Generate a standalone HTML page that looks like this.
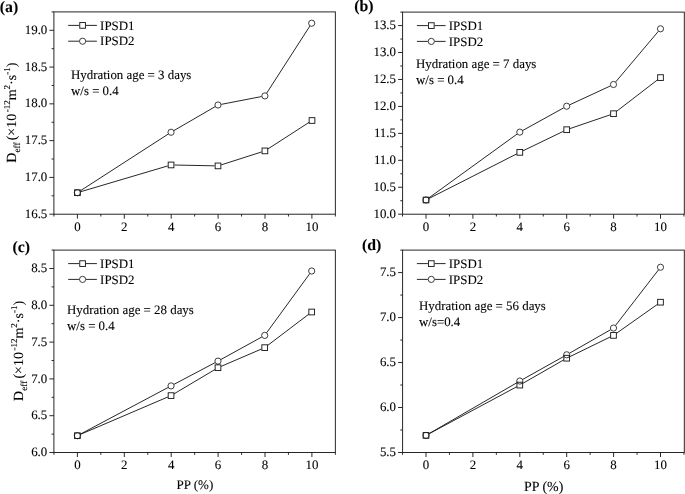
<!DOCTYPE html>
<html lang="en"><head><meta charset="utf-8"><title>Deff vs PP</title>
<style>
html,body{margin:0;padding:0;background:#fff;}
body{width:685px;height:494px;overflow:hidden;}
svg{display:block;will-change:transform;}
svg text{font-family:"Liberation Serif", "DejaVu Serif", serif;fill:#000;stroke:#000;stroke-width:0.1px;text-rendering:geometricPrecision;}
</style></head><body>
<svg width="685" height="494" viewBox="0 0 685 494">

<g fill="none" stroke="#1c1c1c" stroke-width="0.95">
<rect x="53.9" y="11.9" width="281.45" height="202.3"/>
<line x1="53.95" y1="214.2" x2="53.95" y2="216.5"/>
<line x1="77.4" y1="214.2" x2="77.4" y2="218.7"/>
<line x1="100.85" y1="214.2" x2="100.85" y2="216.5"/>
<line x1="124.3" y1="214.2" x2="124.3" y2="218.7"/>
<line x1="147.75" y1="214.2" x2="147.75" y2="216.5"/>
<line x1="171.2" y1="214.2" x2="171.2" y2="218.7"/>
<line x1="194.65" y1="214.2" x2="194.65" y2="216.5"/>
<line x1="218.1" y1="214.2" x2="218.1" y2="218.7"/>
<line x1="241.55" y1="214.2" x2="241.55" y2="216.5"/>
<line x1="265" y1="214.2" x2="265" y2="218.7"/>
<line x1="288.45" y1="214.2" x2="288.45" y2="216.5"/>
<line x1="311.9" y1="214.2" x2="311.9" y2="218.7"/>
<line x1="335.35" y1="214.2" x2="335.35" y2="216.5"/>
<line x1="53.9" y1="214.2" x2="49.4" y2="214.2"/>
<line x1="53.9" y1="195.81" x2="51.6" y2="195.81"/>
<line x1="53.9" y1="177.42" x2="49.4" y2="177.42"/>
<line x1="53.9" y1="159.03" x2="51.6" y2="159.03"/>
<line x1="53.9" y1="140.64" x2="49.4" y2="140.64"/>
<line x1="53.9" y1="122.25" x2="51.6" y2="122.25"/>
<line x1="53.9" y1="103.85" x2="49.4" y2="103.85"/>
<line x1="53.9" y1="85.46" x2="51.6" y2="85.46"/>
<line x1="53.9" y1="67.07" x2="49.4" y2="67.07"/>
<line x1="53.9" y1="48.68" x2="51.6" y2="48.68"/>
<line x1="53.9" y1="30.29" x2="49.4" y2="30.29"/>
<line x1="53.9" y1="11.9" x2="51.6" y2="11.9"/>
<line x1="80.66" y1="191.73" x2="167.79" y2="165.92"/>
<line x1="174.45" y1="165.02" x2="214.6" y2="165.83"/>
<line x1="221.24" y1="164.86" x2="261.66" y2="151.94"/>
<line x1="267.76" y1="149.06" x2="309.14" y2="122.34"/>
<rect x="74.55" y="189.85" width="5.7" height="5.7"/>
<rect x="168.2" y="162.1" width="5.7" height="5.7"/>
<rect x="215.15" y="163.05" width="5.7" height="5.7"/>
<rect x="262.05" y="148.05" width="5.7" height="5.7"/>
<rect x="309.15" y="117.65" width="5.7" height="5.7"/>
<line x1="80.26" y1="190.86" x2="168.19" y2="134.09"/>
<line x1="173.99" y1="130.54" x2="215.06" y2="106.71"/>
<line x1="221.34" y1="104.35" x2="261.56" y2="96.55"/>
<line x1="266.74" y1="93.04" x2="309.86" y2="26.06"/>
<circle cx="77.4" cy="192.7" r="3.1" stroke-width="0.85"/>
<circle cx="171.05" cy="132.25" r="3.1" stroke-width="0.85"/>
<circle cx="218" cy="105" r="3.1" stroke-width="0.85"/>
<circle cx="264.9" cy="95.9" r="3.1" stroke-width="0.85"/>
<circle cx="311.7" cy="23.2" r="3.1" stroke-width="0.85"/>
<line x1="68.2" y1="25.4" x2="79.2" y2="25.4"/>
<line x1="86" y1="25.4" x2="96.9" y2="25.4"/>
<line x1="68.2" y1="41.2" x2="79.2" y2="41.2"/>
<line x1="86" y1="41.2" x2="96.9" y2="41.2"/>
<rect x="79.75" y="22.55" width="5.7" height="5.7"/>
<circle cx="82.6" cy="41.2" r="3.1" stroke-width="0.85"/>
</g>
<g font-size="12.9">
<text x="100.1" y="29.6">IPSD1</text>
<text x="100.1" y="45.4">IPSD2</text>
<text x="71" y="79.4">Hydration age = 3 days</text>
<text x="71" y="95.4">w/s = 0.4</text>
<text x="77.4" y="230.6" text-anchor="middle">0</text>
<text x="124.3" y="230.6" text-anchor="middle">2</text>
<text x="171.2" y="230.6" text-anchor="middle">4</text>
<text x="218.1" y="230.6" text-anchor="middle">6</text>
<text x="265" y="230.6" text-anchor="middle">8</text>
<text x="311.9" y="230.6" text-anchor="middle">10</text>
<text x="47.3" y="217.8" text-anchor="end">16.5</text>
<text x="47.3" y="181.02" text-anchor="end">17.0</text>
<text x="47.3" y="144.24" text-anchor="end">17.5</text>
<text x="47.3" y="107.45" text-anchor="end">18.0</text>
<text x="47.3" y="70.67" text-anchor="end">18.5</text>
<text x="47.3" y="33.89" text-anchor="end">19.0</text>
</g>
<text transform="translate(16.3,112.65) rotate(-90)" text-anchor="middle" font-size="14.0">D<tspan font-size="9.3" dy="3.6">eff</tspan><tspan dy="-3.6" dx="2.1">(×10</tspan><tspan font-size="9" dy="-6.2" dx="1.5">-12</tspan><tspan dy="6.2">m</tspan><tspan font-size="9" dy="-6.2">2</tspan><tspan dy="6.2">·s</tspan><tspan font-size="9" dy="-6.2">-1</tspan><tspan dy="6.2">)</tspan></text>
<text x="-0.2" y="12.2" font-size="15.8" font-weight="bold">(a)</text>
<g fill="none" stroke="#1c1c1c" stroke-width="0.95">
<rect x="402.6" y="12.1" width="281.7" height="202.1"/>
<line x1="402.55" y1="214.2" x2="402.55" y2="216.5"/>
<line x1="426" y1="214.2" x2="426" y2="218.7"/>
<line x1="449.45" y1="214.2" x2="449.45" y2="216.5"/>
<line x1="472.9" y1="214.2" x2="472.9" y2="218.7"/>
<line x1="496.35" y1="214.2" x2="496.35" y2="216.5"/>
<line x1="519.8" y1="214.2" x2="519.8" y2="218.7"/>
<line x1="543.25" y1="214.2" x2="543.25" y2="216.5"/>
<line x1="566.7" y1="214.2" x2="566.7" y2="218.7"/>
<line x1="590.15" y1="214.2" x2="590.15" y2="216.5"/>
<line x1="613.6" y1="214.2" x2="613.6" y2="218.7"/>
<line x1="637.05" y1="214.2" x2="637.05" y2="216.5"/>
<line x1="660.5" y1="214.2" x2="660.5" y2="218.7"/>
<line x1="683.95" y1="214.2" x2="683.95" y2="216.5"/>
<line x1="402.6" y1="214.2" x2="398.1" y2="214.2"/>
<line x1="402.6" y1="200.73" x2="400.3" y2="200.73"/>
<line x1="402.6" y1="187.25" x2="398.1" y2="187.25"/>
<line x1="402.6" y1="173.78" x2="400.3" y2="173.78"/>
<line x1="402.6" y1="160.31" x2="398.1" y2="160.31"/>
<line x1="402.6" y1="146.83" x2="400.3" y2="146.83"/>
<line x1="402.6" y1="133.36" x2="398.1" y2="133.36"/>
<line x1="402.6" y1="119.89" x2="400.3" y2="119.89"/>
<line x1="402.6" y1="106.41" x2="398.1" y2="106.41"/>
<line x1="402.6" y1="92.94" x2="400.3" y2="92.94"/>
<line x1="402.6" y1="79.47" x2="398.1" y2="79.47"/>
<line x1="402.6" y1="65.99" x2="400.3" y2="65.99"/>
<line x1="402.6" y1="52.52" x2="398.1" y2="52.52"/>
<line x1="402.6" y1="39.05" x2="400.3" y2="39.05"/>
<line x1="402.6" y1="25.57" x2="398.1" y2="25.57"/>
<line x1="402.6" y1="12.1" x2="400.3" y2="12.1"/>
<line x1="429.03" y1="198.46" x2="516.77" y2="153.89"/>
<line x1="522.86" y1="150.87" x2="563.64" y2="131.18"/>
<line x1="569.92" y1="128.6" x2="610.28" y2="114.8"/>
<line x1="616.2" y1="111.63" x2="657.8" y2="79.67"/>
<rect x="423.15" y="197.15" width="5.7" height="5.7"/>
<rect x="516.95" y="149.5" width="5.7" height="5.7"/>
<rect x="563.85" y="126.85" width="5.7" height="5.7"/>
<rect x="610.65" y="110.85" width="5.7" height="5.7"/>
<rect x="657.65" y="74.75" width="5.7" height="5.7"/>
<line x1="428.75" y1="198.01" x2="517.05" y2="134.09"/>
<line x1="522.78" y1="130.46" x2="563.72" y2="107.84"/>
<line x1="569.78" y1="104.77" x2="610.42" y2="85.93"/>
<line x1="615.69" y1="81.9" x2="658.31" y2="31.4"/>
<circle cx="426" cy="200" r="3.1" stroke-width="0.85"/>
<circle cx="519.8" cy="132.1" r="3.1" stroke-width="0.85"/>
<circle cx="566.7" cy="106.2" r="3.1" stroke-width="0.85"/>
<circle cx="613.5" cy="84.5" r="3.1" stroke-width="0.85"/>
<circle cx="660.5" cy="28.8" r="3.1" stroke-width="0.85"/>
<line x1="416.9" y1="25.6" x2="427.9" y2="25.6"/>
<line x1="434.7" y1="25.6" x2="445.6" y2="25.6"/>
<line x1="416.9" y1="41.4" x2="427.9" y2="41.4"/>
<line x1="434.7" y1="41.4" x2="445.6" y2="41.4"/>
<rect x="428.45" y="22.75" width="5.7" height="5.7"/>
<circle cx="431.3" cy="41.4" r="3.1" stroke-width="0.85"/>
</g>
<g font-size="12.9">
<text x="448.8" y="29.8">IPSD1</text>
<text x="448.8" y="45.6">IPSD2</text>
<text x="416" y="67.8">Hydration age = 7 days</text>
<text x="416" y="83.8">w/s = 0.4</text>
<text x="426" y="230.6" text-anchor="middle">0</text>
<text x="472.9" y="230.6" text-anchor="middle">2</text>
<text x="519.8" y="230.6" text-anchor="middle">4</text>
<text x="566.7" y="230.6" text-anchor="middle">6</text>
<text x="613.6" y="230.6" text-anchor="middle">8</text>
<text x="660.5" y="230.6" text-anchor="middle">10</text>
<text x="396" y="217.8" text-anchor="end">10.0</text>
<text x="396" y="190.85" text-anchor="end">10.5</text>
<text x="396" y="163.91" text-anchor="end">11.0</text>
<text x="396" y="136.96" text-anchor="end">11.5</text>
<text x="396" y="110.01" text-anchor="end">12.0</text>
<text x="396" y="83.07" text-anchor="end">12.5</text>
<text x="396" y="56.12" text-anchor="end">13.0</text>
<text x="396" y="29.17" text-anchor="end">13.5</text>
</g>
<text x="354.3" y="11.2" font-size="15.8" font-weight="bold">(b)</text>
<g fill="none" stroke="#1c1c1c" stroke-width="0.95">
<rect x="53.9" y="250.1" width="281.45" height="202.4"/>
<line x1="53.95" y1="452.5" x2="53.95" y2="454.8"/>
<line x1="77.4" y1="452.5" x2="77.4" y2="457"/>
<line x1="100.85" y1="452.5" x2="100.85" y2="454.8"/>
<line x1="124.3" y1="452.5" x2="124.3" y2="457"/>
<line x1="147.75" y1="452.5" x2="147.75" y2="454.8"/>
<line x1="171.2" y1="452.5" x2="171.2" y2="457"/>
<line x1="194.65" y1="452.5" x2="194.65" y2="454.8"/>
<line x1="218.1" y1="452.5" x2="218.1" y2="457"/>
<line x1="241.55" y1="452.5" x2="241.55" y2="454.8"/>
<line x1="265" y1="452.5" x2="265" y2="457"/>
<line x1="288.45" y1="452.5" x2="288.45" y2="454.8"/>
<line x1="311.9" y1="452.5" x2="311.9" y2="457"/>
<line x1="335.35" y1="452.5" x2="335.35" y2="454.8"/>
<line x1="53.9" y1="452.5" x2="49.4" y2="452.5"/>
<line x1="53.9" y1="434.1" x2="51.6" y2="434.1"/>
<line x1="53.9" y1="415.7" x2="49.4" y2="415.7"/>
<line x1="53.9" y1="397.3" x2="51.6" y2="397.3"/>
<line x1="53.9" y1="378.9" x2="49.4" y2="378.9"/>
<line x1="53.9" y1="360.5" x2="51.6" y2="360.5"/>
<line x1="53.9" y1="342.1" x2="49.4" y2="342.1"/>
<line x1="53.9" y1="323.7" x2="51.6" y2="323.7"/>
<line x1="53.9" y1="305.3" x2="49.4" y2="305.3"/>
<line x1="53.9" y1="286.9" x2="51.6" y2="286.9"/>
<line x1="53.9" y1="268.5" x2="49.4" y2="268.5"/>
<line x1="53.9" y1="250.1" x2="51.6" y2="250.1"/>
<line x1="80.53" y1="434.36" x2="167.92" y2="396.94"/>
<line x1="173.97" y1="393.86" x2="215.08" y2="369.44"/>
<line x1="221.12" y1="366.36" x2="261.58" y2="348.99"/>
<line x1="267.41" y1="345.6" x2="308.99" y2="314.05"/>
<rect x="74.55" y="432.85" width="5.7" height="5.7"/>
<rect x="168.2" y="392.75" width="5.7" height="5.7"/>
<rect x="215.15" y="364.85" width="5.7" height="5.7"/>
<rect x="261.85" y="344.8" width="5.7" height="5.7"/>
<rect x="308.85" y="309.15" width="5.7" height="5.7"/>
<line x1="80.4" y1="434.1" x2="168.05" y2="387.5"/>
<line x1="174.06" y1="384.31" x2="214.99" y2="362.69"/>
<line x1="220.98" y1="359.46" x2="261.72" y2="337.04"/>
<line x1="266.7" y1="332.65" x2="309.7" y2="273.75"/>
<circle cx="77.4" cy="435.7" r="3.1" stroke-width="0.85"/>
<circle cx="171.05" cy="385.9" r="3.1" stroke-width="0.85"/>
<circle cx="218" cy="361.1" r="3.1" stroke-width="0.85"/>
<circle cx="264.7" cy="335.4" r="3.1" stroke-width="0.85"/>
<circle cx="311.7" cy="271" r="3.1" stroke-width="0.85"/>
<line x1="68.2" y1="263.6" x2="79.2" y2="263.6"/>
<line x1="86" y1="263.6" x2="96.9" y2="263.6"/>
<line x1="68.2" y1="279.4" x2="79.2" y2="279.4"/>
<line x1="86" y1="279.4" x2="96.9" y2="279.4"/>
<rect x="79.75" y="260.75" width="5.7" height="5.7"/>
<circle cx="82.6" cy="279.4" r="3.1" stroke-width="0.85"/>
</g>
<g font-size="12.9">
<text x="100.1" y="267.8">IPSD1</text>
<text x="100.1" y="283.6">IPSD2</text>
<text x="67" y="314.1">Hydration age = 28 days</text>
<text x="67" y="330.1">w/s = 0.4</text>
<text x="77.4" y="468.9" text-anchor="middle">0</text>
<text x="124.3" y="468.9" text-anchor="middle">2</text>
<text x="171.2" y="468.9" text-anchor="middle">4</text>
<text x="218.1" y="468.9" text-anchor="middle">6</text>
<text x="265" y="468.9" text-anchor="middle">8</text>
<text x="311.9" y="468.9" text-anchor="middle">10</text>
<text x="47.3" y="456.1" text-anchor="end">6.0</text>
<text x="47.3" y="419.3" text-anchor="end">6.5</text>
<text x="47.3" y="382.5" text-anchor="end">7.0</text>
<text x="47.3" y="345.7" text-anchor="end">7.5</text>
<text x="47.3" y="308.9" text-anchor="end">8.0</text>
<text x="47.3" y="272.1" text-anchor="end">8.5</text>
<text x="194.9" y="489.1" text-anchor="middle" font-size="13.0">PP (%)</text>
</g>
<text transform="translate(23.0,350.9) rotate(-90)" text-anchor="middle" font-size="14.0">D<tspan font-size="9.3" dy="3.6">eff</tspan><tspan dy="-3.6" dx="2.1">(×10</tspan><tspan font-size="9" dy="-6.2" dx="1.5">-12</tspan><tspan dy="6.2">m</tspan><tspan font-size="9" dy="-6.2">2</tspan><tspan dy="6.2">·s</tspan><tspan font-size="9" dy="-6.2">-1</tspan><tspan dy="6.2">)</tspan></text>
<text x="12.4" y="252.2" font-size="15.8" font-weight="bold">(c)</text>
<g fill="none" stroke="#1c1c1c" stroke-width="0.95">
<rect x="402.6" y="250.1" width="281.7" height="202.4"/>
<line x1="402.55" y1="452.5" x2="402.55" y2="454.8"/>
<line x1="426" y1="452.5" x2="426" y2="457"/>
<line x1="449.45" y1="452.5" x2="449.45" y2="454.8"/>
<line x1="472.9" y1="452.5" x2="472.9" y2="457"/>
<line x1="496.35" y1="452.5" x2="496.35" y2="454.8"/>
<line x1="519.8" y1="452.5" x2="519.8" y2="457"/>
<line x1="543.25" y1="452.5" x2="543.25" y2="454.8"/>
<line x1="566.7" y1="452.5" x2="566.7" y2="457"/>
<line x1="590.15" y1="452.5" x2="590.15" y2="454.8"/>
<line x1="613.6" y1="452.5" x2="613.6" y2="457"/>
<line x1="637.05" y1="452.5" x2="637.05" y2="454.8"/>
<line x1="660.5" y1="452.5" x2="660.5" y2="457"/>
<line x1="683.95" y1="452.5" x2="683.95" y2="454.8"/>
<line x1="402.6" y1="452.5" x2="398.1" y2="452.5"/>
<line x1="402.6" y1="430.01" x2="400.3" y2="430.01"/>
<line x1="402.6" y1="407.52" x2="398.1" y2="407.52"/>
<line x1="402.6" y1="385.03" x2="400.3" y2="385.03"/>
<line x1="402.6" y1="362.54" x2="398.1" y2="362.54"/>
<line x1="402.6" y1="340.06" x2="400.3" y2="340.06"/>
<line x1="402.6" y1="317.57" x2="398.1" y2="317.57"/>
<line x1="402.6" y1="295.08" x2="400.3" y2="295.08"/>
<line x1="402.6" y1="272.59" x2="398.1" y2="272.59"/>
<line x1="402.6" y1="250.1" x2="400.3" y2="250.1"/>
<line x1="429" y1="433.79" x2="516.8" y2="386.71"/>
<line x1="522.75" y1="383.41" x2="563.75" y2="359.89"/>
<line x1="569.76" y1="356.71" x2="610.44" y2="336.89"/>
<line x1="616.28" y1="333.44" x2="657.72" y2="304.16"/>
<rect x="423.15" y="432.55" width="5.7" height="5.7"/>
<rect x="516.95" y="382.25" width="5.7" height="5.7"/>
<rect x="563.85" y="355.35" width="5.7" height="5.7"/>
<rect x="610.65" y="332.55" width="5.7" height="5.7"/>
<rect x="657.65" y="299.35" width="5.7" height="5.7"/>
<line x1="428.94" y1="433.7" x2="516.86" y2="382.75"/>
<line x1="522.77" y1="379.39" x2="563.73" y2="356.46"/>
<line x1="569.65" y1="353.11" x2="610.55" y2="329.74"/>
<line x1="615.58" y1="325.36" x2="658.42" y2="269.94"/>
<circle cx="426" cy="435.4" r="3.1" stroke-width="0.85"/>
<circle cx="519.8" cy="381.05" r="3.1" stroke-width="0.85"/>
<circle cx="566.7" cy="354.8" r="3.1" stroke-width="0.85"/>
<circle cx="613.5" cy="328.05" r="3.1" stroke-width="0.85"/>
<circle cx="660.5" cy="267.25" r="3.1" stroke-width="0.85"/>
<line x1="416.9" y1="263.6" x2="427.9" y2="263.6"/>
<line x1="434.7" y1="263.6" x2="445.6" y2="263.6"/>
<line x1="416.9" y1="279.4" x2="427.9" y2="279.4"/>
<line x1="434.7" y1="279.4" x2="445.6" y2="279.4"/>
<rect x="428.45" y="260.75" width="5.7" height="5.7"/>
<circle cx="431.3" cy="279.4" r="3.1" stroke-width="0.85"/>
</g>
<g font-size="12.9">
<text x="448.8" y="267.8">IPSD1</text>
<text x="448.8" y="283.6">IPSD2</text>
<text x="419" y="309.8">Hydration age = 56 days</text>
<text x="419" y="325.8">w/s=0.4</text>
<text x="426" y="468.9" text-anchor="middle">0</text>
<text x="472.9" y="468.9" text-anchor="middle">2</text>
<text x="519.8" y="468.9" text-anchor="middle">4</text>
<text x="566.7" y="468.9" text-anchor="middle">6</text>
<text x="613.6" y="468.9" text-anchor="middle">8</text>
<text x="660.5" y="468.9" text-anchor="middle">10</text>
<text x="396" y="456.1" text-anchor="end">5.5</text>
<text x="396" y="411.12" text-anchor="end">6.0</text>
<text x="396" y="366.14" text-anchor="end">6.5</text>
<text x="396" y="321.17" text-anchor="end">7.0</text>
<text x="396" y="276.19" text-anchor="end">7.5</text>
<text x="543.65" y="490.6" text-anchor="middle" font-size="13.9">PP (%)</text>
</g>
<text x="362" y="250" font-size="15.8" font-weight="bold">(d)</text>
</svg>
</body></html>
